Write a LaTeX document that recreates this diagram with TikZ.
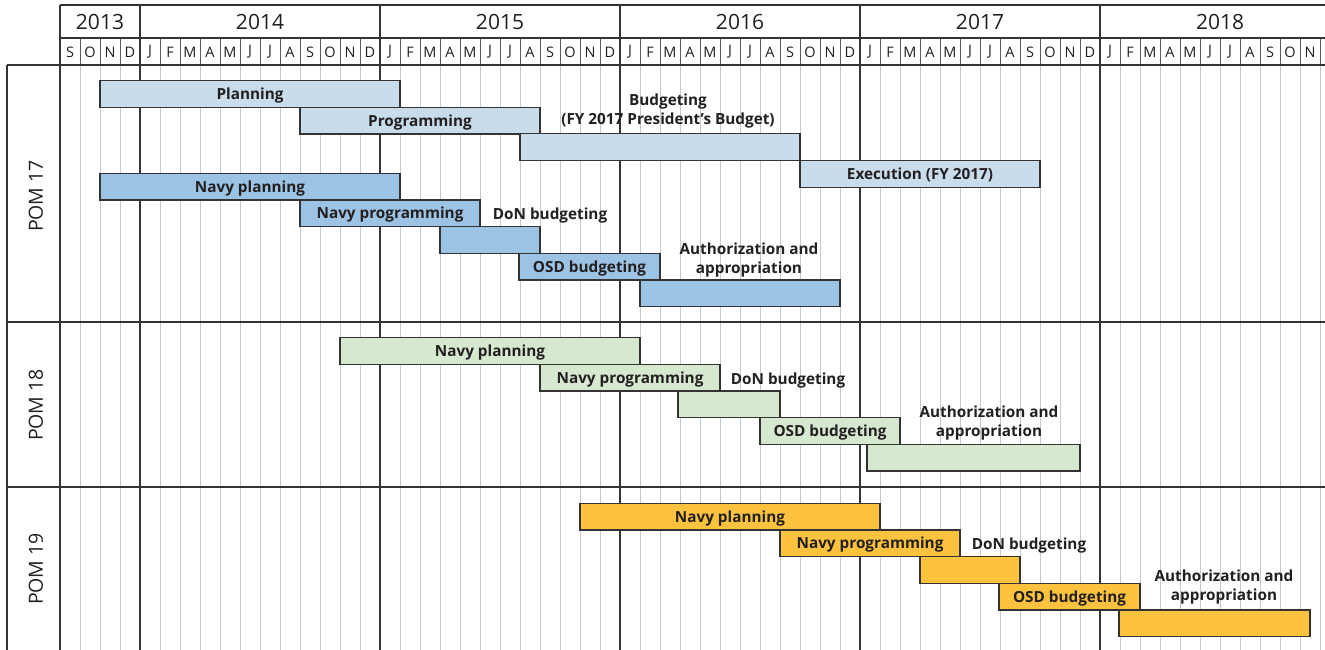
\documentclass[tikz,border=0pt]{standalone}
\usepackage{fontspec}
\setmainfont{Open Sans}
\definecolor{blueL}{HTML}{C9DCEC}
\definecolor{blueM}{HTML}{9CC3E4}
\definecolor{greenL}{HTML}{D6E8D0}
\definecolor{goldY}{HTML}{FDC33F}
\definecolor{gridL}{HTML}{C3C9CF}
\definecolor{darkL}{HTML}{333333}
\definecolor{txt}{HTML}{231F20}
\tikzset{
  bar/.style={draw=darkL, line width=1.3pt, inner sep=0pt, outer sep=0pt, anchor=north west,
    text height=11pt, text depth=0pt,
    font=\bfseries\fontsize{15.3}{18.5}\selectfont, text=txt},
  lab/.style={inner sep=0pt, align=center, font=\bfseries\fontsize{15.3}{18.5}\selectfont, text=txt},
  yearlab/.style={inner sep=0pt, font=\fontsize{21}{24}\selectfont, text=txt},
  monthlab/.style={inner sep=0pt, font=\fontsize{14.5}{16}\selectfont, text=txt},
  pomlab/.style={inner sep=0pt, rotate=90, font=\fontsize{19.5}{22}\selectfont, text=txt},
  gridline/.style={draw=gridL, line width=1pt},
  hdrline/.style={draw=darkL!80, line width=0.9pt},
  frameline/.style={draw=darkL, line width=1.3pt},
  yearline/.style={draw=darkL, line width=1.5pt}
}
\newcommand\ganttbar[6]{\node[bar, fill=#2, minimum width={(#4-#3)*1pt}, minimum height=26.7pt] (#1) at (#3,#5) {#6};}
\begin{document}
\begin{tikzpicture}[x=1pt,y=-1pt]
\useasboundingbox (0,0) rectangle (1325,650);
\fill[white] (0,0) rectangle (1325,650);
% grid
\foreach \k in {1,...,63} {
  \draw[gridline] (60+20*\k,65) -- (60+20*\k,650);
  \draw[hdrline] (60+20*\k,38) -- (60+20*\k,65);
}
\foreach \xx in {140,380,620,860,1100} \draw[yearline] (\xx,5) -- (\xx,650);
\draw[frameline] (60,5) -- (60,650);
\draw[frameline] (60,5) -- (1325,5);
\draw[frameline] (60,38) -- (1325,38);
\draw[frameline] (7,65) -- (1325,65);
\draw[frameline] (7,65) -- (7,650);
\draw[frameline] (7,322) -- (1325,322);
\draw[frameline] (7,487) -- (1325,487);
% years
\node[yearlab] (y2013) at (100,21.5) {2013};
\node[yearlab] (y2014) at (260,21.5) {2014};
\node[yearlab] (y2015) at (500,21.5) {2015};
\node[yearlab] (y2016) at (740,21.5) {2016};
\node[yearlab] (y2017) at (980,21.5) {2017};
\node[yearlab] (y2018) at (1220,21.5) {2018};
% months
\foreach \m [count=\i from 0] in {S,O,N,D,J,F,M,A,M,J,J,A,S,O,N,D,J,F,M,A,M,J,J,A,S,O,N,D,J,F,M,A,M,J,J,A,S,O,N,D,J,F,M,A,M,J,J,A,S,O,N,D,J,F,M,A,M,J,J,A,S,O,N,D}
  \node[monthlab] (m\i) at (70+20*\i,52) {\m};
% POM labels
\node[pomlab] (pom17) at (36,196) {POM 17};
\node[pomlab] (pom18) at (36,405) {POM 18};
\node[pomlab] (pom19) at (36,569) {POM 19};
% POM 17
\ganttbar{a1}{blueL}{100}{400}{80.5}{Planning}
\ganttbar{a2}{blueL}{300}{540}{107.2}{Programming}
\ganttbar{a3}{blueL}{520}{800}{133.8}{}
\ganttbar{a4}{blueL}{800}{1040}{160.5}{Execution (FY 2017)}
\node[lab] (a3l) at (668,111) {Budgeting\\(FY 2017 President’s Budget)};
\ganttbar{b1}{blueM}{100}{400}{173.3}{Navy planning}
\ganttbar{b2}{blueM}{300}{480}{200}{Navy programming}
\ganttbar{b3}{blueM}{440}{540}{226.7}{}
\ganttbar{b4}{blueM}{519}{660}{253.3}{OSD budgeting}
\ganttbar{b5}{blueM}{640}{840}{280}{}
\node[lab] (b3l) at (550,216) {DoN budgeting};
\node[lab] (b5l) at (749,260) {Authorization and\\appropriation};
% POM 18
\ganttbar{c1}{greenL}{340}{640}{337.7}{Navy planning}
\ganttbar{c2}{greenL}{540}{720}{364.3}{Navy programming}
\ganttbar{c3}{greenL}{678}{780}{391}{}
\ganttbar{c4}{greenL}{760}{900}{417.7}{OSD budgeting}
\ganttbar{c5}{greenL}{867}{1080}{444.3}{}
\node[lab] (c3l) at (788,381) {DoN budgeting};
\node[lab] (c5l) at (989,423) {Authorization and\\appropriation};
% POM 19
\ganttbar{d1}{goldY}{580}{880}{503.3}{Navy planning}
\ganttbar{d2}{goldY}{780}{960}{530}{Navy programming}
\ganttbar{d3}{goldY}{920}{1020}{556.7}{}
\ganttbar{d4}{goldY}{999}{1140}{583.3}{OSD budgeting}
\ganttbar{d5}{goldY}{1119}{1310}{610}{}
\node[lab] (d3l) at (1029,546) {DoN budgeting};
\node[lab] (d5l) at (1224,587) {Authorization and\\appropriation};
\end{tikzpicture}
\end{document}
